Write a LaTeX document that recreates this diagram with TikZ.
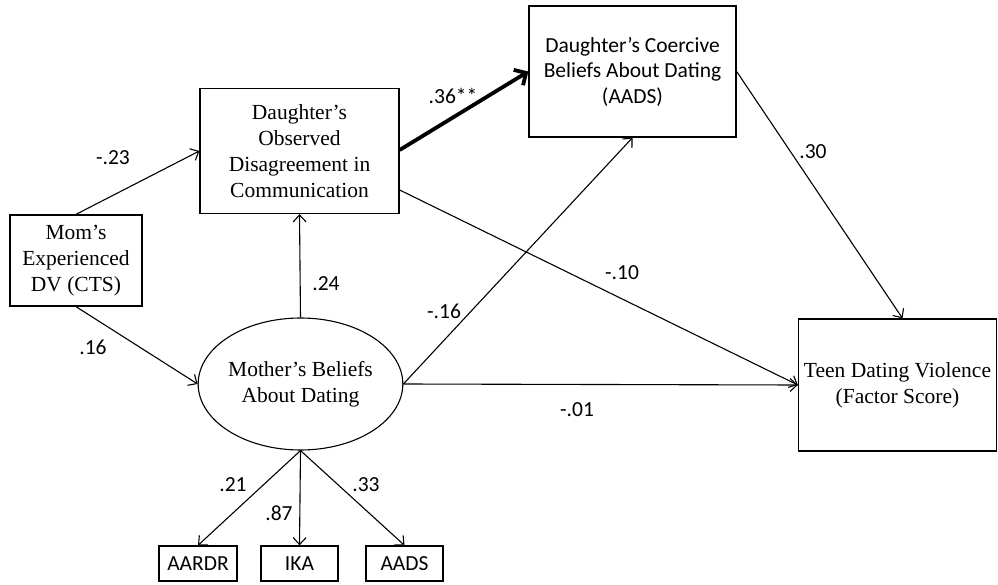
\documentclass[tikz,border=0pt]{standalone}
\usepackage{fontspec}
\setmainfont{Liberation Serif}
\newfontfamily\calib{Carlito}
\usetikzlibrary{arrows.meta,shapes.geometric}
\tikzset{
  box/.style={draw, line width=1.3bp, inner sep=0pt, align=center,
              font=\fontsize{21.5bp}{26bp}\selectfont},
  cbox/.style={draw, line width=1.3bp, inner sep=0pt, align=center,
              font=\calib\fontsize{21.5bp}{25.5bp}\selectfont},
  latent/.style={draw, ellipse, line width=1.1bp, inner sep=0pt, align=center,
              font=\fontsize{21.5bp}{26bp}\selectfont},
  path/.style={line width=1.1bp, -{Straight Barb[length=7bp,width=13bp]}},
  strong/.style={line width=3.8bp, -{Straight Barb[length=9bp,width=18bp]}},
  coef/.style={font=\calib\fontsize{21.5bp}{24bp}\selectfont, inner sep=0pt}
}
\begin{document}
\begin{tikzpicture}[x=1bp,y=-1bp]
\useasboundingbox (0,0) rectangle (998,585);

% observed and latent variables
\node[box, minimum width=199bp, minimum height=125bp] (obs) at (299.5,151)
  {Daughter’s\\Observed\\Disagreement in\\Communication};
\node[box, minimum width=132bp, minimum height=91bp] (mom) at (76,260.5)
  {Mom’s\\Experienced\\DV (CTS)};
\node[latent, minimum width=202bp, minimum height=132bp] (ell) at (300.5,384)
  {Mother’s Beliefs\\About Dating};
\node[cbox, minimum width=207bp, minimum height=131bp] (coer) at (632.5,71.5)
  {Daughter’s Coercive\\Beliefs About Dating\\(AADS)};
\node[box, minimum width=198bp, minimum height=132bp] (teen) at (897.5,385)
  {Teen Dating Violence\\(Factor Score)};

% indicators of the latent factor
\node[cbox, minimum width=78bp, minimum height=35bp] (aardr) at (198,563.5) {AARDR};
\node[cbox, minimum width=77bp, minimum height=35bp] (ika) at (299.5,563.5) {IKA};
\node[cbox, minimum width=77bp, minimum height=35bp] (aads) at (404.5,563.5) {AADS};

% structural paths
\draw[path] (mom.north) -- (obs.west);
\draw[path] (mom.south) -- (ell.west);
\draw[path] (ell.north) -- (obs.south);
\draw[strong] ([yshift=1bp]obs.east) -- (coer.west);
\draw[path] (ell.east) -- (coer.south);
\draw[path] ([yshift=-39bp]obs.east) -- (teen.west);
\draw[path] (ell.east) -- (teen.west);
\draw[path] (coer.east) -- ([xshift=5bp]teen.north);

% measurement paths
\draw[path] (ell.south) -- (aardr.north);
\draw[path] (ell.south) -- (ika.north);
\draw[path] (ell.south) -- (aads.north);

% path coefficients
\node[coef] (c1) at (113,158) {-.23};
\node[coef] (c2) at (93,347) {.16};
\node[coef] (c3) at (326,284) {.24};
\node[coef] (c4) at (453,96) {.36**};
\node[coef] (c5) at (444,311) {-.16};
\node[coef] (c6) at (622,273) {-.10};
\node[coef] (c7) at (577,410) {-.01};
\node[coef] (c8) at (813,152) {.30};
\node[coef] (c9) at (233,485) {.21};
\node[coef] (c10) at (279,513) {.87};
\node[coef] (c11) at (366,485) {.33};
\end{tikzpicture}
\end{document}
